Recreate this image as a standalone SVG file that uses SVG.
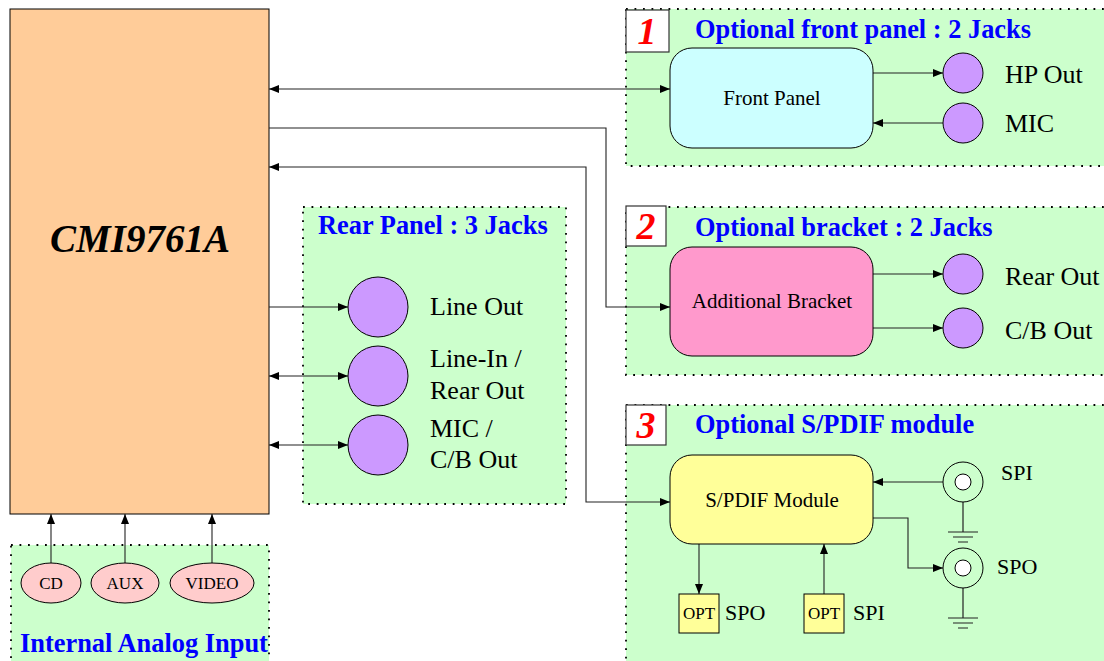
<svg xmlns="http://www.w3.org/2000/svg" width="1104" height="661" viewBox="0 0 1104 661">
<style>
.grp{fill:#ccffcc;stroke:#000;stroke-width:1.8;stroke-dasharray:1.8 6.7}
.ttl{font-family:"Liberation Serif",serif;font-weight:bold;font-size:26.4px;fill:#0000ff}
.num{font-family:"Liberation Serif",serif;font-weight:bold;font-style:italic;font-size:38px;fill:#ff0000}
.numbox{fill:#fff;stroke:#333;stroke-width:1.2}
.jack{fill:#cc99ff;stroke:#000;stroke-width:1}
.lbl{font-family:"Liberation Serif",serif;font-size:26px;fill:#000}
.mod{font-family:"Liberation Serif",serif;font-size:21px;fill:#000;text-anchor:middle}
.sm{font-family:"Liberation Serif",serif;font-size:17px;fill:#000;text-anchor:middle}
.sl{font-family:"Liberation Serif",serif;font-size:22px;fill:#000}
.box{stroke:#000;stroke-width:1}
.wire{fill:none;stroke:#222;stroke-width:1.1}
.gnd{stroke:#222;stroke-width:1.2}
</style>
<defs>
<marker id="ah" viewBox="0 0 10 8" refX="10" refY="4" markerWidth="10" markerHeight="8" markerUnits="userSpaceOnUse" orient="auto-start-reverse">
<path d="M0,0 L10,4 L0,8 Z" fill="#000"/>
</marker>
</defs>

<!-- group backgrounds -->
<g id="sec1">
<rect class="grp" x="626" y="9" width="490" height="157"/>
<rect class="numbox" x="626" y="10" width="43" height="42"/>
<text class="num" x="647" y="44" text-anchor="middle">1</text>
<text class="ttl" x="695" y="38">Optional front panel : 2 Jacks</text>
</g>
<g id="sec2">
<rect class="grp" x="626" y="207" width="490" height="168"/>
<rect class="numbox" x="626" y="206" width="40" height="40"/>
<text class="num" x="646" y="239" text-anchor="middle">2</text>
<text class="ttl" x="695" y="236">Optional bracket : 2 Jacks</text>
</g>
<g id="sec3">
<rect class="grp" x="626" y="405" width="490" height="270"/>
<rect class="numbox" x="626" y="405" width="40" height="40"/>
<text class="num" x="646" y="438" text-anchor="middle">3</text>
<text class="ttl" x="695" y="433">Optional S/PDIF module</text>
</g>
<g id="rear">
<rect class="grp" x="303" y="207" width="263" height="297"/>
<text class="ttl" x="318" y="234">Rear Panel : 3 Jacks</text>
</g>
<g id="analog">
<rect class="grp" x="11" y="545" width="258" height="130"/>
<text class="ttl" x="20" y="652">Internal Analog Input</text>
</g>

<!-- main chip -->
<g id="cmi">
<rect class="box" x="10" y="9" width="259" height="505" fill="#ffcc99"/>
<text x="140" y="252" text-anchor="middle" font-family="Liberation Serif, serif" font-weight="bold" font-style="italic" font-size="39">CMI9761A</text>
</g>

<!-- connectors -->
<g id="connectors">
<path class="wire" d="M269,89 H670" marker-start="url(#ah)" marker-end="url(#ah)"/>
<path class="wire" d="M269,128 H606 V307 H670" marker-end="url(#ah)"/>
<path class="wire" d="M269,167 H586 V502 H670" marker-start="url(#ah)" marker-end="url(#ah)"/>
<path class="wire" d="M269,307 H348" marker-end="url(#ah)"/>
<path class="wire" d="M269,376 H348" marker-start="url(#ah)" marker-end="url(#ah)"/>
<path class="wire" d="M269,445 H348" marker-start="url(#ah)" marker-end="url(#ah)"/>
<path class="wire" d="M51,563 V514" marker-end="url(#ah)"/>
<path class="wire" d="M125,563 V514" marker-end="url(#ah)"/>
<path class="wire" d="M212,563 V514" marker-end="url(#ah)"/>
<path class="wire" d="M873,73 H943" marker-end="url(#ah)"/>
<path class="wire" d="M943,123 H873" marker-end="url(#ah)"/>
<path class="wire" d="M873,274 H943" marker-end="url(#ah)"/>
<path class="wire" d="M873,328 H943" marker-end="url(#ah)"/>
<path class="wire" d="M943,482 H873" marker-end="url(#ah)"/>
<path class="wire" d="M873,518 H908 V568 H943" marker-end="url(#ah)"/>
<path class="wire" d="M699,544 V594" marker-end="url(#ah)"/>
<path class="wire" d="M824,594 V544" marker-end="url(#ah)"/>
<path class="gnd" d="M963,502 V532 M948,532 H978 M953,537 H973 M958,542 H968"/>
<path class="gnd" d="M963,588 V618 M948,618 H978 M953,623 H973 M958,628 H968"/>
</g>

<!-- section 1 nodes -->
<g id="front-panel">
<rect class="box" x="670" y="48" width="203" height="100" rx="22" fill="#ccffff"/>
<text class="mod" x="772" y="105">Front Panel</text>
</g>
<g id="hp-out"><circle class="jack" cx="963" cy="73" r="20"/><text class="lbl" x="1005" y="83">HP Out</text></g>
<g id="mic-front"><circle class="jack" cx="963" cy="123" r="20"/><text class="lbl" x="1005" y="132">MIC</text></g>

<!-- section 2 nodes -->
<g id="bracket">
<rect class="box" x="670" y="247" width="203" height="109" rx="22" fill="#ff99cc"/>
<text class="mod" x="772" y="308">Additional Bracket</text>
</g>
<g id="rear-out"><circle class="jack" cx="963" cy="274" r="20"/><text class="lbl" x="1005" y="285">Rear Out</text></g>
<g id="cb-out"><circle class="jack" cx="963" cy="328" r="20"/><text class="lbl" x="1005" y="339">C/B Out</text></g>

<!-- section 3 nodes -->
<g id="spdif">
<rect class="box" x="670" y="455" width="203" height="89" rx="22" fill="#ffff99"/>
<text class="mod" x="772" y="507">S/PDIF Module</text>
</g>
<g id="spi-coax"><circle cx="963" cy="482" r="20" fill="#ccffcc" stroke="#000"/><circle cx="963" cy="482" r="8" fill="#fff" stroke="#000"/><text class="sl" x="1001" y="480">SPI</text></g>
<g id="spo-coax"><circle cx="963" cy="568" r="20" fill="#ccffcc" stroke="#000"/><circle cx="963" cy="568" r="8" fill="#fff" stroke="#000"/><text class="sl" x="997" y="574">SPO</text></g>
<g id="opt-spo"><rect class="box" x="679" y="594" width="40" height="39" fill="#ffff99"/><text class="sm" x="699" y="619" font-size="16">OPT</text><text class="sl" x="725" y="620">SPO</text></g>
<g id="opt-spi"><rect class="box" x="804" y="594" width="40" height="39" fill="#ffff99"/><text class="sm" x="824" y="619" font-size="16">OPT</text><text class="sl" x="853" y="620">SPI</text></g>

<!-- rear panel jacks -->
<g id="line-out"><circle class="jack" cx="378" cy="307" r="30"/><text class="lbl" x="430" y="315">Line Out</text></g>
<g id="line-in"><circle class="jack" cx="378" cy="376" r="30"/><text class="lbl" x="430" y="367">Line-In /</text><text class="lbl" x="430" y="399">Rear Out</text></g>
<g id="mic-rear"><circle class="jack" cx="378" cy="445" r="30"/><text class="lbl" x="430" y="437">MIC /</text><text class="lbl" x="430" y="468">C/B Out</text></g>

<!-- analog inputs -->
<g id="cd"><ellipse cx="51" cy="583" rx="30" ry="20" fill="#ffcccc" stroke="#000"/><text class="sm" x="51" y="589">CD</text></g>
<g id="aux"><ellipse cx="125" cy="583" rx="34" ry="20" fill="#ffcccc" stroke="#000"/><text class="sm" x="125" y="589">AUX</text></g>
<g id="video"><ellipse cx="212" cy="583" rx="42" ry="20" fill="#ffcccc" stroke="#000"/><text class="sm" x="212" y="589">VIDEO</text></g>
</svg>
